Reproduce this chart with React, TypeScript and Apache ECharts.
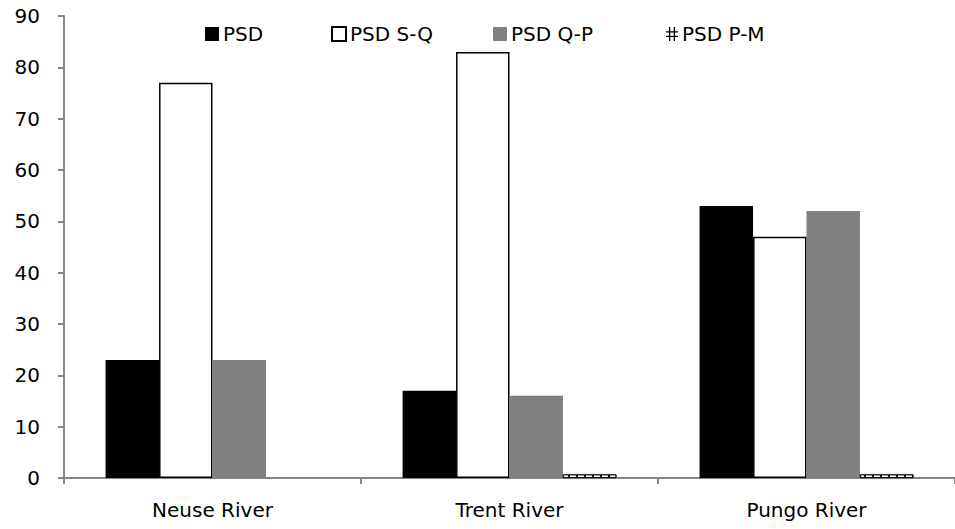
import React, { useEffect, useRef } from "react";
import * as echarts from "echarts";

const categories = ["Neuse River", "Trent River", "Pungo River"];
const seriesNames = ["PSD", "PSD S-Q", "PSD Q-P", "PSD P-M"];
const psd = [23, 17, 53];
const psdSQ = [77, 83, 47];
const psdQP = [23, 16, 52];
const psdPM = [0, 0.7, 0.7];
const yTicks = { min: 0, max: 90, interval: 10 };

const FONT = "'DejaVu Sans', sans-serif";
const hashIcon =
  "path://M3,0h1.3v14h-1.3z M7.7,0h1.3v14h-1.3z M0,4.3h12v1.3h-12z M0,8.7h12v1.3h-12z";

export default function App() {
  const ref = useRef<HTMLDivElement>(null);
  useEffect(() => {
    if (!ref.current) return;
    const chart = echarts.init(ref.current, null, { renderer: "svg" });
    const legendBase = {
      top: 24,
      padding: 0,
      itemWidth: 14,
      itemHeight: 14,
      itemGap: 4,
      textStyle: { fontFamily: FONT, fontSize: 20, color: "#000", padding: [0, 0, 0, -1] },
      selectedMode: false,
    };
    chart.setOption({
      animation: false,
      backgroundColor: "#fff",
      grid: { left: 64, right: -8, top: 16, bottom: 51, containLabel: false },
      legend: [
        { ...legendBase, left: 205, data: [{ name: seriesNames[0], icon: "rect" }] },
        { ...legendBase, left: 331, data: [{ name: seriesNames[1], icon: "rect" }] },
        { ...legendBase, left: 493, data: [{ name: seriesNames[2], icon: "rect" }] },
        {
          ...legendBase,
          left: 666,
          itemWidth: 12,
          data: [
            {
              name: seriesNames[3],
              icon: hashIcon,
              itemStyle: { color: "#000", borderWidth: 0, decal: "none" },
            },
          ],
        },
      ],
      xAxis: {
        type: "category",
        data: categories,
        axisLine: { lineStyle: { color: "#868686", width: 2 } },
        axisTick: { show: true, length: 6, lineStyle: { color: "#868686", width: 2 } },
        axisLabel: { fontFamily: FONT, fontSize: 20, color: "#000", margin: 22 },
      },
      yAxis: {
        type: "value",
        min: yTicks.min,
        max: yTicks.max,
        interval: yTicks.interval,
        axisLine: { show: true, lineStyle: { color: "#868686", width: 2 } },
        axisTick: { show: true, length: 6, lineStyle: { color: "#868686", width: 2 } },
        splitLine: { show: false },
        axisLabel: { fontFamily: FONT, fontSize: 20, color: "#000", margin: 24 },
      },
      series: [
        {
          name: seriesNames[0],
          type: "bar",
          data: psd,
          barGap: "0%",
          barCategoryGap: "28%",
          itemStyle: { color: "#000" },
        },
        {
          name: seriesNames[1],
          type: "bar",
          data: psdSQ,
          itemStyle: { color: "#fff", borderColor: "#000", borderWidth: 1.5 },
        },
        {
          name: seriesNames[2],
          type: "bar",
          data: psdQP,
          itemStyle: { color: "#808080" },
        },
        {
          name: seriesNames[3],
          type: "bar",
          data: psdPM.map((v) =>
            v === 0 ? { value: v, itemStyle: { borderWidth: 0, opacity: 0 } } : v
          ),
          itemStyle: {
            color: "#fff",
            borderColor: "#000",
            borderWidth: 0.8,
            decal: {
              symbol: "rect",
              symbolSize: 1,
              color: "#000",
              backgroundColor: "#fff",
              dashArrayX: [2, 6],
              dashArrayY: [20, 0],
              rotation: 0,
            },
          },
        },
      ],
    });
    return () => chart.dispose();
  }, []);
  return (
    <div
      ref={ref}
      style={{ position: "fixed", left: 0, top: 0, width: 955, height: 529 }}
    />
  );
}
